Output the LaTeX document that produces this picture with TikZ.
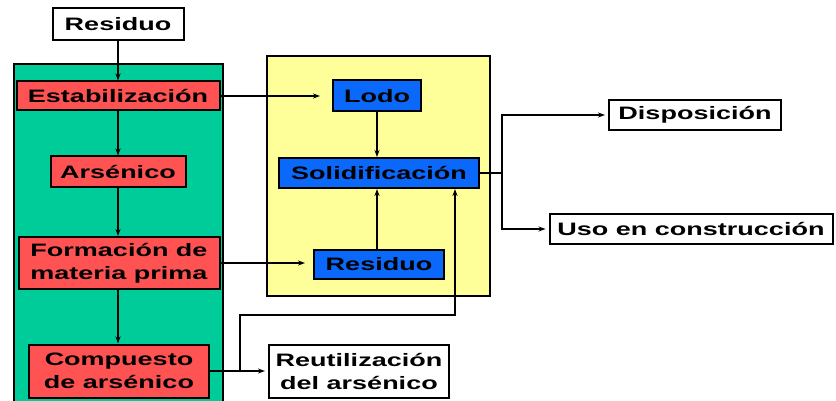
\documentclass[tikz,border=0pt]{standalone}
\usepackage{xcolor}
\usepackage{fontspec}
\setmainfont{Liberation Sans}[FakeStretch=1.5]
\usepackage{tikz}
\usetikzlibrary{arrows.meta, positioning}

\definecolor{verdeA}{RGB}{0,204,153}
\definecolor{amarA}{RGB}{255,255,153}
\definecolor{rojoA}{RGB}{255,82,82}
\definecolor{azulA}{RGB}{10,104,250}

\begin{document}
\begin{tikzpicture}[
  x=1pt, y=-1pt,
  base/.style={draw=black, line width=2pt, inner sep=0pt, align=center,
               font=\fontsize{18}{23}\selectfont\bfseries},
  whb/.style={base, fill=white},
  redb/.style={base, fill=rojoA},
  blub/.style={base, fill=azulA},
  zona/.style={draw=black, line width=2pt, anchor=north west, inner sep=0pt},
  arr/.style={-{Stealth[length=7pt, width=5pt]}, line width=1.8pt},
  ln/.style={line width=1.8pt}
]
\useasboundingbox (0,0) rectangle (836,401);

% zonas de fondo
\node[zona, fill=verdeA, minimum width=209pt, minimum height=345pt] (zverde) at (13,63) {};
\node[zona, fill=amarA, minimum width=223pt, minimum height=240pt] (zamar) at (266,55) {};

% columna izquierda
\node[whb, minimum width=131pt, minimum height=32pt]  (res0)   at (118,24)  {Residuo};
\node[redb, minimum width=203pt, minimum height=29pt] (estab)  at (118,96)  {Estabilización};
\node[redb, minimum width=135pt, minimum height=31pt] (arsen)  at (118,172) {Arsénico};
\node[redb, minimum width=201pt, minimum height=52pt] (formac) at (119,263) {Formación de\\materia prima};
\node[redb, minimum width=180pt, minimum height=53pt] (compu)  at (119,371) {Compuesto\\de arsénico};

% bloque central
\node[blub, minimum width=88pt, minimum height=31pt]  (lodo)  at (377,96)  {Lodo};
\node[blub, minimum width=200pt, minimum height=30pt] (solid) at (379,173) {Solidificación};
\node[blub, minimum width=130pt, minimum height=29pt] (res1)  at (379,264) {Residuo};

% salidas
\node[whb, minimum width=172pt, minimum height=30pt] (disp) at (695,115) {Disposición};
\node[whb, minimum width=283pt, minimum height=29pt] (uso)  at (691,229) {Uso en construcción};
\node[whb, minimum width=180pt, minimum height=53pt] (reut) at (359,371) {Reutilización\\del arsénico};

\coordinate (split) at (502,173);
\coordinate (ramA) at (240,371);
\coordinate (ramB) at (240,315);
\coordinate (ramC) at (455,315);

\draw[arr] (res0) -- (estab);
\draw[arr] (estab) -- (arsen);
\draw[arr] (arsen.south) -- (arsen.south |- formac.north);
\draw[arr] (formac.south -| arsen.south) -- (arsen.south |- compu.north);
\draw[arr, shorten >=12pt] (estab.east) -- (estab.east -| lodo.west);
\draw[arr, shorten >=8pt] (formac.east) -- (formac.east -| res1.west);
\draw[arr] (lodo.south) -- (lodo.south |- solid.north);
\draw[arr] (res1.north -| lodo.south) -- (lodo.south |- solid.south);
\draw[arr, shorten >=3pt] (compu.east) -- (reut.west);
\draw[arr] (ramA) -- (ramB) -- (ramC) -- (ramC |- solid.south);
\draw[ln] (solid.east) -- (split);
\draw[arr, shorten >=3pt] (split) |- (disp.west);
\draw[arr, shorten >=3pt] (split) |- (uso.west);
\end{tikzpicture}
\end{document}
